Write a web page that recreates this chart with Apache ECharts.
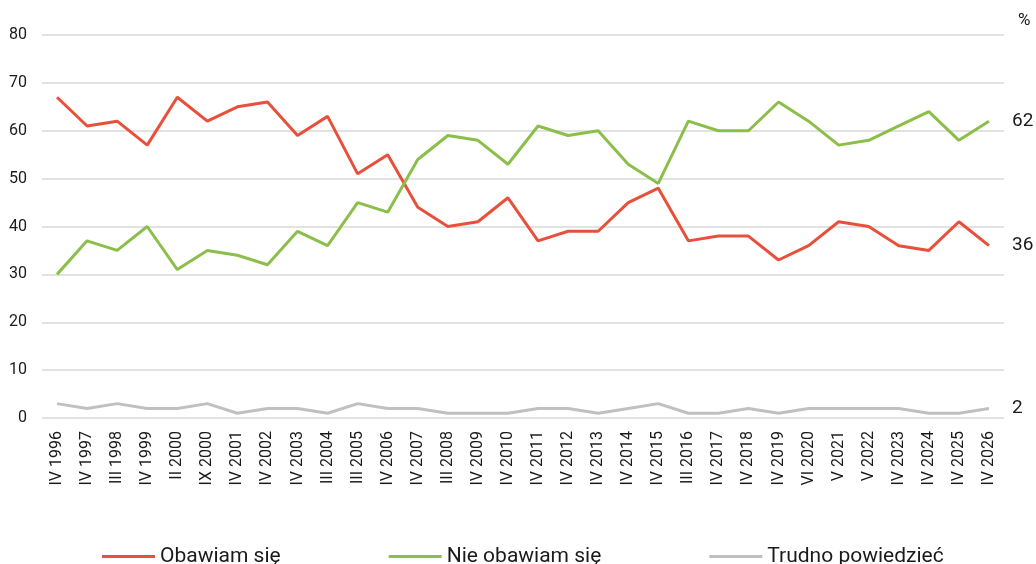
<!DOCTYPE html>
<html>
<head>
<meta charset="utf-8">
<script src="https://cdn.jsdelivr.net/npm/echarts@6/dist/echarts.min.js"></script>
<style>
  html, body { margin: 0; padding: 0; background: #fff; }
  #chart { width: 1036px; height: 564px; }
</style>
</head>
<body>
<div id="chart"></div>
<script>
// survey waves
var categories = ['IV 1996', 'IV 1997', 'III 1998', 'IV 1999', 'II 2000', 'IX 2000', 'IV 2001', 'IV 2002',
  'IV 2003', 'III 2004', 'III 2005', 'IV 2006', 'IV 2007', 'III 2008', 'IV 2009', 'IV 2010',
  'IV 2011', 'IV 2012', 'IV 2013', 'IV 2014', 'IV 2015', 'III 2016', 'IV 2017', 'IV 2018',
  'IV 2019', 'VI 2020', 'V 2021', 'V 2022', 'IV 2023', 'IV 2024', 'IV 2025', 'IV 2026'];

var obawiam = [67, 61, 62, 57, 67, 62, 65, 66, 59, 63, 51, 55, 44, 40, 41, 46,
  37, 39, 39, 45, 48, 37, 38, 38, 33, 36, 41, 40, 36, 35, 41, 36];
var nieObawiam = [30, 37, 35, 40, 31, 35, 34, 32, 39, 36, 45, 43, 54, 59, 58, 53,
  61, 59, 60, 53, 49, 62, 60, 60, 66, 62, 57, 58, 61, 64, 58, 62];
var trudno = [3, 2, 3, 2, 2, 3, 1, 2, 2, 1, 3, 2, 2, 1, 1, 1,
  2, 2, 1, 2, 3, 1, 1, 2, 1, 2, 2, 2, 2, 1, 1, 2];

var yTicks = { min: 0, max: 80, interval: 10 };

var chart = echarts.init(document.getElementById('chart'));
var font = 'Roboto, "Noto Sans", sans-serif';

function lineSeries(name, data, color) {
  return {
    name: name,
    type: 'line',
    data: data,
    symbol: 'none',
    lineStyle: { width: 3, color: color },
    itemStyle: { color: color },
    endLabel: {
      show: true,
      formatter: '{c}',
      distance: 23,
      fontSize: 19,
      fontFamily: font,
      color: '#1a1a1a'
    }
  };
}

var option = {
  animation: false,
  backgroundColor: '#fff',
  textStyle: { fontFamily: font },
  grid: { left: 42, right: 32, top: 35, bottom: 146 },
  graphic: [{
    type: 'text',
    left: 1018,
    top: 12,
    style: { text: '%', fontSize: 17, fontFamily: font, fill: '#1a1a1a' }
  }],
  legend: {
    top: 541,
    left: 97,
    icon: 'rect',
    itemWidth: 53,
    itemHeight: 3,
    itemGap: 108,
    textStyle: { fontSize: 21, color: '#1a1a1a', fontFamily: font }
  },
  xAxis: {
    type: 'category',
    data: categories,
    boundaryGap: true,
    axisLine: { show: false },
    axisTick: { show: false },
    axisLabel: { interval: 0, rotate: 90, fontSize: 16, color: '#1a1a1a', margin: 13 }
  },
  yAxis: {
    type: 'value',
    min: yTicks.min,
    max: yTicks.max,
    interval: yTicks.interval,
    axisLine: { show: false },
    axisTick: { show: false },
    axisLabel: { fontSize: 16, color: '#1a1a1a', margin: 15 },
    splitLine: { lineStyle: { color: '#d9d9d9', width: 1.5 } }
  },
  series: [
    lineSeries('Obawiam się', obawiam, '#e8503c'),
    lineSeries('Nie obawiam się', nieObawiam, '#8cbf4a'),
    lineSeries('Trudno powiedzieć', trudno, '#c0c0c0')
  ]
};

chart.setOption(option);
</script>
</body>
</html>
